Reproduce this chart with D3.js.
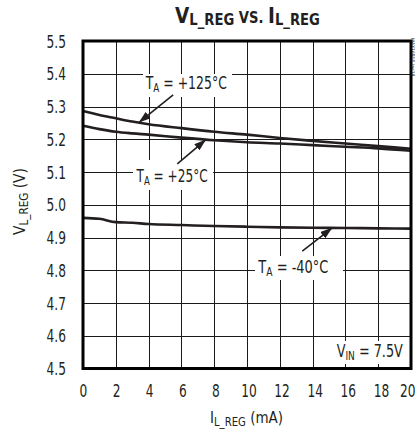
<!DOCTYPE html>
<html>
<head>
<meta charset="utf-8">
<script src="https://cdn.jsdelivr.net/npm/d3@7"></script>
<style>
  body { margin: 0; background: #fff; }
  svg { display: block; }
  text {
    font-family: "Liberation Sans Narrow", "Arial Narrow", "DejaVu Sans Condensed", "Liberation Sans", Arial, sans-serif;
    fill: #231f20;
  }
</style>
</head>
<body>
<div id="chart"></div>
<script>
// load current (mA)
const currents = [0, 1, 2, 3, 4, 6, 8, 10, 12, 14, 16, 18, 20];
// V_L_REG (V) for each temperature
const v125 = [5.286, 5.274, 5.264, 5.254, 5.246, 5.234, 5.223, 5.214, 5.204, 5.195, 5.187, 5.179, 5.171];
const v25 = [5.241, 5.231, 5.223, 5.218, 5.214, 5.205, 5.197, 5.191, 5.187, 5.182, 5.177, 5.172, 5.165];
const vM40 = [4.960, 4.957, 4.947, 4.945, 4.941, 4.938, 4.935, 4.933, 4.931, 4.930, 4.929, 4.928, 4.927];
const tempLabels = [" = +125°C", " = +25°C", " = -40°C"];
// the current where each arrow touches its curve
const arrowAt = [3.4, 7.5, 15.2];

const xTicks = [0, 2, 4, 6, 8, 10, 12, 14, 16, 18, 20];
const yTicks = [4.5, 4.6, 4.7, 4.8, 4.9, 5.0, 5.1, 5.2, 5.3, 5.4, 5.5];

const width = 418,
  height = 432;
const margin = { top: 41, right: 7, bottom: 63.5, left: 83 };
const ink = "#231f20";

const svg = d3
  .select("#chart")
  .append("svg")
  .attr("width", width)
  .attr("height", height);

const xScale = d3.scaleLinear([0, 20], [margin.left, width - margin.right]);
const yScale = d3.scaleLinear([4.5, 5.5], [height - margin.bottom, margin.top]);

/* check how wide the font really is, so narrow text can be squeezed if needed */
const probe = svg.append("text").style("font-size", "17px").text("0123456789");
const narrow = Math.min(1, (0.456 * 17 * 10) / probe.node().getComputedTextLength());
probe.remove();

// text made of parts (for subscripts), scaled to a given width
function richText(x, y, parts, targetW, rotate) {
  const g = svg.append("g");
  const t = g.append("text");
  parts.forEach((p) => {
    t.append("tspan")
      .attr("dy", p.dy || 0)
      .style("font-size", p.size + "px")
      .style("font-weight", p.bold ? "bold" : "normal")
      .text(p.t);
  });
  const w = t.node().getBBox().width;
  const sx = targetW / w;
  g.attr("transform", `translate(${x},${y})` + (rotate ? ` rotate(${rotate})` : "") + ` scale(${sx},1)`);
  return g;
}

/* Gridlines */
svg
  .append("g")
  .attr("transform", `translate(0,${height - margin.bottom})`)
  .call(d3.axisBottom(xScale).tickValues(xTicks).tickSize(-(height - margin.top - margin.bottom)).tickFormat(""))
  .call((g) => g.select(".domain").remove())
  .selectAll("line")
  .attr("stroke", "#1a1a1a")
  .attr("stroke-width", 1)
  .attr("shape-rendering", "crispEdges");

svg
  .append("g")
  .attr("transform", `translate(${margin.left},0)`)
  .call(d3.axisLeft(yScale).tickValues(yTicks).tickSize(-(width - margin.left - margin.right)).tickFormat(""))
  .call((g) => g.select(".domain").remove())
  .selectAll("line")
  .attr("stroke", "#1a1a1a")
  .attr("stroke-width", 1)
  .attr("shape-rendering", "crispEdges");

/* White boxes behind the labels (they cut the grid) */
const boxes = [
  [143, 74, 89, 23],
  [133, 160, 80, 30],
  [255, 256, 88, 24],
  [335, 341, 73, 23],
];
svg
  .selectAll("rect.box")
  .data(boxes)
  .join("rect")
  .attr("class", "box")
  .attr("x", (d) => d[0])
  .attr("y", (d) => d[1])
  .attr("width", (d) => d[2])
  .attr("height", (d) => d[3])
  .attr("fill", "#fff");

/* Curves */
const series = [v125, v25, vM40];
const line = d3
  .line()
  .curve(d3.curveMonotoneX)
  .x((d, i) => xScale(currents[i]))
  .y((d) => yScale(d));

svg
  .append("g")
  .selectAll("path")
  .data(series)
  .join("path")
  .attr("fill", "none")
  .attr("stroke", ink)
  .attr("stroke-width", 2.6)
  .attr("stroke-linejoin", "round")
  .attr("d", line);

/* Arrows */
svg
  .append("defs")
  .append("marker")
  .attr("id", "head")
  .attr("markerUnits", "userSpaceOnUse")
  .attr("viewBox", "0 0 12 8")
  .attr("refX", 12)
  .attr("refY", 4)
  .attr("markerWidth", 12)
  .attr("markerHeight", 8)
  .attr("orient", "auto")
  .append("path")
  .attr("d", "M0,0 L12,4 L0,8 Z")
  .attr("fill", ink);

const tailOffset = [
  [34.4, -27.7],
  [-28.7, 24.3],
  [-30, 23.3],
];
series.forEach((s, i) => {
  const at = d3.scaleLinear(currents, s);
  const tx = xScale(arrowAt[i]),
    ty = yScale(at(arrowAt[i]));
  svg
    .append("line")
    .attr("x1", tx + tailOffset[i][0])
    .attr("y1", ty + tailOffset[i][1])
    .attr("x2", tx)
    .attr("y2", ty)
    .attr("stroke", ink)
    .attr("stroke-width", 1.6)
    .attr("marker-end", "url(#head)");
});

/* Labels */
const labelPos = [
  [145.7, 89.3, 82],
  [136.5, 182, 72],
  [258.3, 273, 71],
];
labelPos.forEach((p, i) => {
  richText(p[0], p[1], [
    { t: "T", size: 17 },
    { t: "A", size: 12, dy: 3 },
    { t: tempLabels[i], size: 17, dy: -3 },
  ], p[2]);
});
richText(336.7, 356.7, [
  { t: "V", size: 17 },
  { t: "IN", size: 12, dy: 3 },
  { t: " = 7.5V", size: 17, dy: -3 },
], 66.6);

/* Axes tick labels */
const yAxis = svg
  .append("g")
  .attr("transform", `translate(${margin.left},0)`)
  .call(d3.axisLeft(yScale).tickValues(yTicks).tickSize(0).tickPadding(17).tickFormat(d3.format(".1f")));
yAxis.select(".domain").remove();
yAxis
  .selectAll("text")
  .style("font-size", "17px")
  .attr("fill", ink)
  .attr("dy", "0.36em")
  .attr("textLength", function () {
    return this.getComputedTextLength() * narrow;
  })
  .attr("lengthAdjust", "spacingAndGlyphs");

const xAxis = svg
  .append("g")
  .attr("transform", `translate(0,${height - margin.bottom})`)
  .call(d3.axisBottom(xScale).tickValues(xTicks).tickSize(0).tickPadding(16));
xAxis.select(".domain").remove();
xAxis
  .selectAll("text")
  .style("font-size", "17px")
  .attr("fill", ink)
  .attr("dx", (d) => (d / 20) * 3)
  .attr("textLength", function () {
    return this.getComputedTextLength() * narrow;
  })
  .attr("lengthAdjust", "spacingAndGlyphs");
// the last label sits against the right edge
xAxis
  .selectAll("text")
  .filter((d) => d === 20)
  .attr("text-anchor", "end")
  .attr("dx", 4);

/* Frame */
svg
  .append("rect")
  .attr("x", margin.left)
  .attr("y", margin.top)
  .attr("width", width - margin.left - margin.right)
  .attr("height", height - margin.top - margin.bottom)
  .attr("fill", "none")
  .attr("stroke", "#000")
  .attr("stroke-width", 3);

/* Title and axis titles */
richText(175, 22.7, [
  { t: "V", size: 21, bold: true },
  { t: "L_REG", size: 15, bold: true, dy: 2.3 },
  { t: " VS. ", size: 15, bold: true, dy: -2.3 },
  { t: "I", size: 21, bold: true },
  { t: "L_REG", size: 15, bold: true, dy: 2.3 },
], 145);

richText(210, 423.3, [
  { t: "I", size: 16 },
  { t: "L_REG", size: 12, dy: 3 },
  { t: " (mA)", size: 16, dy: -3 },
], 73);

richText(24.5, 235, [
  { t: "V", size: 16 },
  { t: "L_REG", size: 12, dy: 3 },
  { t: " (V)", size: 16, dy: -3 },
], 67, -90);

// small figure code on the right edge
svg
  .append("text")
  .attr("transform", "translate(411,38) rotate(90)")
  .style("font-size", "5px")
  .attr("fill", "#999")
  .text("MAX16910 toc18");
</script>
</body>
</html>
